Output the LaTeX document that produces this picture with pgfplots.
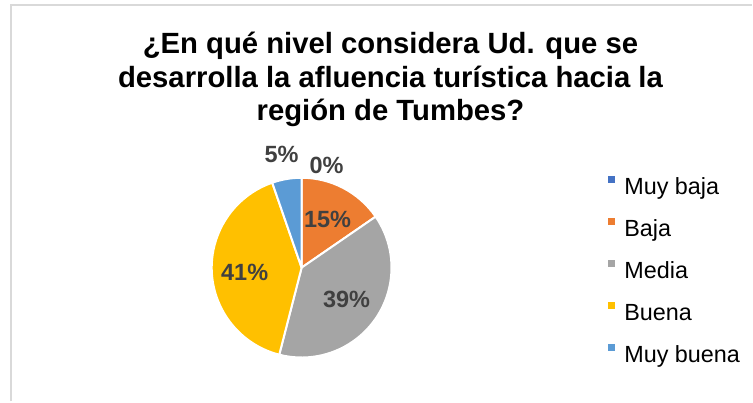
\documentclass[border=0pt]{standalone}
\usepackage{pgfplots}
\usepackage{pgfplotstable}
\pgfplotsset{compat=1.18}
\usepackage{fontspec}
\setmainfont{Liberation Sans}
\definecolor{cMB}{HTML}{4472C4}
\definecolor{cB}{HTML}{ED7D31}
\definecolor{cM}{HTML}{A5A5A5}
\definecolor{cBu}{HTML}{FFC000}
\definecolor{cMBu}{HTML}{5B9BD5}
\definecolor{lbl}{HTML}{404040}
\definecolor{frm}{HTML}{D9D9D9}

% category, share in percent, label position (px, y up)
\pgfplotstableread{
cat value lx ly
MuyBaja 0 327 236
Baja 15.4 328 182
Media 38.6 347 102
Buena 40.7 245 129
MuyBuena 5.3 282 247
}\piedata

\newcommand\getval[2]{\pgfplotstablegetelem{#1}{value}\of\piedata\global\let#2\pgfplotsretval}
\newcommand\getlx[2]{\pgfplotstablegetelem{#1}{lx}\of\piedata\global\let#2\pgfplotsretval}
\newcommand\getly[2]{\pgfplotstablegetelem{#1}{ly}\of\piedata\global\let#2\pgfplotsretval}

\begin{document}
\begin{tikzpicture}
\getval{0}{\vA}\getval{1}{\vB}\getval{2}{\vC}\getval{3}{\vD}\getval{4}{\vE}
\getlx{0}{\xA}\getlx{1}{\xB}\getlx{2}{\xC}\getlx{3}{\xD}\getlx{4}{\xE}
\getly{0}{\yA}\getly{1}{\yB}\getly{2}{\yC}\getly{3}{\yD}\getly{4}{\yE}
\pgfmathsetmacro\aA{90}
\pgfmathsetmacro\aB{\aA-3.6*\vA}
\pgfmathsetmacro\aC{\aB-3.6*\vB}
\pgfmathsetmacro\aD{\aC-3.6*\vC}
\pgfmathsetmacro\aE{\aD-3.6*\vD}
\pgfmathsetmacro\aF{\aE-3.6*\vE}
\pgfmathtruncatemacro\pA{round(\vA)}\pgfmathtruncatemacro\pB{round(\vB)}\pgfmathtruncatemacro\pC{round(\vC)}\pgfmathtruncatemacro\pD{round(\vD)}\pgfmathtruncatemacro\pE{round(\vE)}
\begin{axis}[
  width=753pt, height=402pt, scale only axis,
  xmin=0, xmax=753, ymin=0, ymax=402,
  hide axis, clip=false,
  legend cell align=left,
  legend style={draw=none, fill=none, at={(axis cs:605.5,227.5)}, anchor=north west,
    font=\fontsize{23.4}{28}\selectfont, row sep=19pt, column sep=0pt,
    nodes={inner sep=0pt, text height=17pt, text depth=5pt}},
]
\addlegendimage{legend image code/.code={\fill[cMB,draw=none] (0pt,5pt) rectangle (7pt,12pt); \path[draw=none] (0pt,0pt) -- (16.5pt,0pt);}}
\addlegendentry{Muy baja}
\addlegendimage{legend image code/.code={\fill[cB,draw=none] (0pt,5pt) rectangle (7pt,12pt); \path[draw=none] (0pt,0pt) -- (16.5pt,0pt);}}
\addlegendentry{Baja}
\addlegendimage{legend image code/.code={\fill[cM,draw=none] (0pt,5pt) rectangle (7pt,12pt); \path[draw=none] (0pt,0pt) -- (16.5pt,0pt);}}
\addlegendentry{Media}
\addlegendimage{legend image code/.code={\fill[cBu,draw=none] (0pt,5pt) rectangle (7pt,12pt); \path[draw=none] (0pt,0pt) -- (16.5pt,0pt);}}
\addlegendentry{Buena}
\addlegendimage{legend image code/.code={\fill[cMBu,draw=none] (0pt,5pt) rectangle (7pt,12pt); \path[draw=none] (0pt,0pt) -- (16.5pt,0pt);}}
\addlegendentry{Muy buena}

% fixed picture size
\path (axis cs:0,0) rectangle (axis cs:753,402);
% frame
\draw[frm, line width=2pt] (axis cs:11,0) -- (axis cs:11,397) -- (axis cs:753,397);

% pie slices
\filldraw[fill=cB, draw=white, line width=2pt, line join=round] (axis cs:302,134) -- +(\aB:90pt) arc[start angle=\aB, end angle=\aC, radius=90pt] -- cycle;
\filldraw[fill=cM, draw=white, line width=2pt, line join=round] (axis cs:302,134) -- +(\aC:90pt) arc[start angle=\aC, end angle=\aD, radius=90pt] -- cycle;
\filldraw[fill=cBu, draw=white, line width=2pt, line join=round] (axis cs:302,134) -- +(\aD:90pt) arc[start angle=\aD, end angle=\aE, radius=90pt] -- cycle;
\filldraw[fill=cMBu, draw=white, line width=2pt, line join=round] (axis cs:302,134) -- +(\aE:90pt) arc[start angle=\aE, end angle=\aF, radius=90pt] -- cycle;

% data labels
\begin{scope}[every node/.style={font=\bfseries\fontsize{23.5}{28}\selectfont, text=lbl, inner sep=0pt}]
\node at (axis cs:\xA,\yA) {\pA\%};
\node at (axis cs:\xB,\yB) {\pB\%};
\node at (axis cs:\xC,\yC) {\pC\%};
\node at (axis cs:\xD,\yD) {\pD\%};
\node at (axis cs:\xE,\yE) {\pE\%};
\end{scope}

% title
\begin{scope}[every node/.style={font=\bfseries\fontsize{29.3}{33}\selectfont, inner sep=0pt, anchor=base}]
\node at (axis cs:391,348) {¿En qué nivel considera Ud. que se};
\node at (axis cs:391,314.5) {desarrolla la afluencia turística hacia la};
\node at (axis cs:391,281) {región de Tumbes?};
\end{scope}
\end{axis}
\end{tikzpicture}
\end{document}
